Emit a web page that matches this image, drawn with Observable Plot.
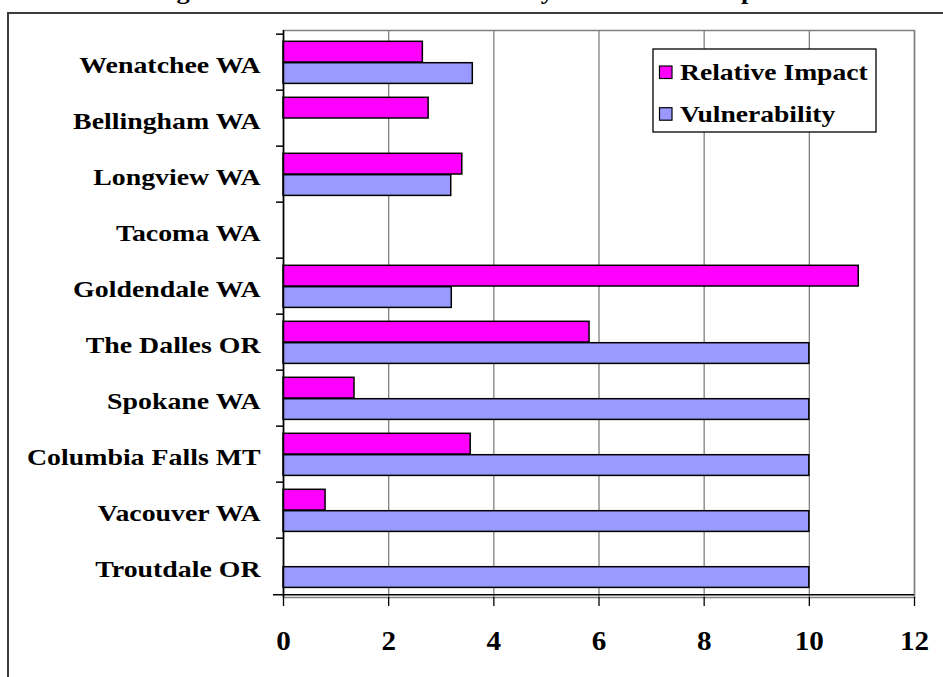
<!DOCTYPE html>
<html>
<head>
<meta charset="utf-8">
<script src="https://cdn.jsdelivr.net/npm/d3@7"></script>
<script src="https://cdn.jsdelivr.net/npm/@observablehq/plot@0.6"></script>
<style>
  body { margin: 0; background: #fff; }
  #wrap { position: relative; width: 943px; height: 677px; overflow: hidden; background: #fff;
          font-family: "Liberation Serif", "Times New Roman", serif; }
  #border { position: absolute; left: 7px; top: 12px; width: 1000px; height: 800px;
            border: 2px solid #3c3c3c; box-sizing: border-box; }
  #title { position: absolute; left: 0; top: -22px; width: 943px; text-align: center;
           font-weight: bold; font-size: 24px; line-height: 26px; white-space: nowrap; }
  #title span { display: inline-block; transform: scaleX(1.1); }
  #chart { position: absolute; left: 0; top: 0; }
</style>
</head>
<body>
<div id="wrap">
  <div id="title"><span>Figure 3: Smelter Site Vulnerability and Relative Impact</span></div>
  <div id="border"></div>
  <div id="chart"></div>
</div>
<script>
// ---- data ----
const cities = ["Wenatchee WA", "Bellingham WA", "Longview WA", "Tacoma WA", "Goldendale WA",
                "The Dalles OR", "Spokane WA", "Columbia Falls MT", "Vacouver WA", "Troutdale OR"];
const relativeImpact = [2.65, 2.76, 3.4, null, 10.94, 5.82, 1.35, 3.56, 0.8, null];
const vulnerability  = [3.6, null, 3.19, null, 3.2, 10, 10, 10, 10, 10];
const seriesNames = ["Relative Impact", "Vulnerability"];
const seriesColors = ["#ff00ff", "#9999ff"];
const xTicks = [0, 2, 4, 6, 8, 10, 12];

const rows = cities.flatMap((c, i) => [
  {city: c, series: seriesNames[0], value: relativeImpact[i]},
  {city: c, series: seriesNames[1], value: vulnerability[i]}
]).filter(d => d.value != null);

const W = 943, H = 677, mL = 283, mR = 29, mT = 30, mB = 80;
const step = (H - mT - mB) / cities.length;
const barH = 21.4, topGap = 7.3;

const chart = Plot.plot({
  width: W, height: H,
  marginLeft: mL, marginRight: mR, marginTop: mT, marginBottom: mB,
  style: {fontFamily: '"Liberation Serif", "Times New Roman", serif', color: "#000",
          background: "transparent", overflow: "visible"},
  x: {domain: [0, 12], axis: null, label: null},
  y: {domain: cities, padding: 0, axis: null, label: null},
  color: {domain: seriesNames, range: seriesColors},
  marks: [
    Plot.frame({stroke: "#808080", strokeWidth: 1.5}),
    Plot.gridX(xTicks, {stroke: "#808080", strokeOpacity: 1, strokeWidth: 1.3}),
    Plot.barX(rows.filter(d => d.series === seriesNames[0]), {
      x: "value", y: "city", fill: "series", stroke: "#000", strokeWidth: 1.5,
      insetTop: topGap, insetBottom: step - topGap - barH
    }),
    Plot.barX(rows.filter(d => d.series === seriesNames[1]), {
      x: "value", y: "city", fill: "series", stroke: "#000", strokeWidth: 1.5,
      insetTop: topGap + barH, insetBottom: step - topGap - 2 * barH
    }),
    Plot.ruleX([0], {stroke: "#000", strokeWidth: 1.5}),
    Plot.ruleY(cities, {y: d => d, dy: -step / 2, x1: 0, x2: 0, insetLeft: -7, stroke: "#000", strokeWidth: 1.5}),
    Plot.ruleY([cities[cities.length - 1]], {y: d => d, dy: step / 2, x1: 0, x2: 12, insetLeft: -10,
      stroke: "#000", strokeWidth: 1.5}),
    Plot.axisX({ticks: xTicks, anchor: "bottom", label: null, tickSize: 9, tickPadding: 24, fontSize: 28,
      fontWeight: "bold", tickFormat: d => String(d), strokeWidth: 1.3}),
    Plot.axisY({anchor: "left", label: null, tickSize: 0, tickPadding: 23, fontSize: 24, fontWeight: "bold", dy: 3.3})
  ]
});

document.getElementById("chart").appendChild(chart);

const svg = d3.select(chart);
function stretch(sel, s) {
  sel.each(function () {
    const t = this.getAttribute("transform") || "";
    const x = +this.getAttribute("x") || 0;
    this.setAttribute("transform", `${t} translate(${x},0) scale(${s},1) translate(${-x},0)`);
  });
}
stretch(svg.selectAll('g[aria-label="y-axis tick label"] text'), 1.16);
stretch(svg.selectAll('g[aria-label="x-axis tick label"] text'), 1.04);

// ---- legend ----
const lg = svg.append("g").attr("class", "legend").attr("text-anchor", "start");
lg.append("rect").attr("x", 653).attr("y", 49).attr("width", 223).attr("height", 83)
  .attr("fill", "#fff").attr("stroke", "#000").attr("stroke-width", 1.3);
seriesNames.forEach((name, i) => {
  const base = i === 0 ? 80 : 121.7;
  lg.append("rect").attr("x", 659.5).attr("y", base - 14).attr("width", 12.5).attr("height", 12.5)
    .attr("fill", seriesColors[i]).attr("stroke", "#000").attr("stroke-width", 1.2);
  lg.append("text").attr("transform", `translate(680,${base}) scale(1.2,1)`)
    .attr("text-anchor", "start")
    .attr("font-size", 23).attr("font-weight", "bold")
    .attr("font-family", '"Liberation Serif", "Times New Roman", serif').text(name);
});
</script>
</body>
</html>
